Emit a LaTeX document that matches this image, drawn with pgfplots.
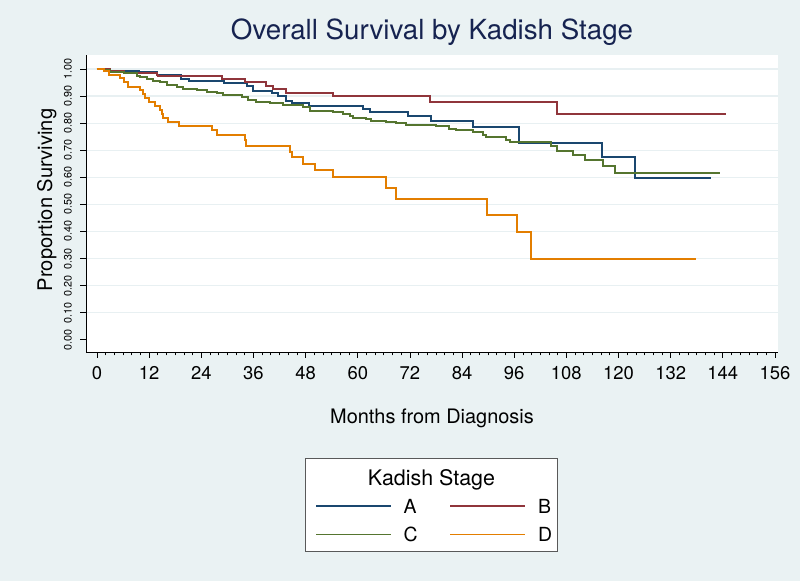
\documentclass[border=0pt]{standalone}
\usepackage{pgfplots}
\pgfplotsset{compat=1.18}
\usepackage{fontspec}
\setmainfont{TeX Gyre Heros}
\definecolor{bgc}{RGB}{234,242,243}
\definecolor{gridc}{RGB}{232,240,242}
\definecolor{titlec}{RGB}{22,35,80}
\definecolor{cA}{RGB}{26,71,111}
\definecolor{cB}{RGB}{144,53,59}
\definecolor{cC}{RGB}{85,117,47}
\definecolor{cD}{RGB}{227,126,0}
\begin{document}
\begin{tikzpicture}[x=1bp,y=1bp]
\useasboundingbox (0,0) rectangle (800,581);
\fill[bgc] (0,0) rectangle (800,581);
\fill[white] (305,29.3) rectangle (557.7,122.7);
\draw[black!65, line width=0.8bp] (305,29.3) rectangle (557.7,122.7);
\node[anchor=base, font=\fontsize{21.5}{24}\selectfont] at (431.5,95) {Kadish Stage};
\begin{axis}[
  at={(86bp,229bp)}, anchor=south west,
  scale only axis, width=692bp, height=297bp,
  xmin=-2.53, xmax=156.7, ymin=-0.045, ymax=1.0517,
  axis background/.style={fill=white},
  axis x line*=bottom, axis y line*=left,
  axis line style={-, black, line width=0.8bp},
  tick align=outside,
  tick style={black, line width=0.7bp},
  major tick length=6bp, minor tick length=3.5bp,
  xtick={0,12,...,156}, minor x tick num=5,
  ytick={0.1,0.2,0.3,0.4,0.5,0.6,0.7,0.8,0.9,1.0},
  extra y ticks={0}, extra y tick style={grid=none},
  ymajorgrids, y grid style={gridc, line width=1.2bp},
  /pgf/number format/assume math mode=true,
  yticklabel style={/pgf/number format/.cd, fixed, fixed zerofill, precision=2, /tikz/.cd},
  extra y tick labels={0.00},
  yticklabel style={xshift=-8.5bp, rotate=90, anchor=base, inner sep=0pt, font=\fontsize{10.8}{10.8}\selectfont},
  xticklabel style={anchor=base, inner sep=0pt, yshift=-22bp, font=\fontsize{18.5}{18.5}\selectfont},
  xlabel={Months from Diagnosis},
  xlabel style={at={(axis description cs:0.5,0)}, anchor=base, yshift=-71.3bp, inner sep=0pt, font=\fontsize{20}{20}\selectfont},
  ylabel={Proportion Surviving},
  ylabel style={at={(axis description cs:-0.0491,0.512)}, anchor=base, inner sep=0pt, font=\fontsize{20.2}{20}\selectfont},
  title={Overall Survival by Kadish Stage},
  title style={at={(axis description cs:0.5,1)}, anchor=base, yshift=9.3bp, inner sep=0pt, font=\fontsize{27.8}{28}\selectfont, text=titlec},
  legend columns=2,
  legend style={at={(axis description cs:0.3309,-0.4949)}, anchor=north west, draw=none, fill=none, inner sep=0pt,
    row sep=14.3bp,
    nodes={inner sep=0pt, font=\fontsize{19.5}{20}\selectfont, text height=14bp, text depth=0pt},
    /tikz/every odd column/.append style={column sep=11.8bp},
    /tikz/every even column/.append style={column sep=31.9bp}},
  legend cell align=left,
  legend image code/.code={\draw[#1, line width=1.7bp] (0bp,0bp) -- (75bp,0bp);},
  every axis plot/.append style={const plot, line width=2bp, mark=none},
]
% A
\addplot[cA, line width=2bp] coordinates {
(0,1.000) (3.0,0.994) (9.7,0.988) (13.9,0.978) (19.3,0.963) (21.2,0.955)
(29.3,0.950) (34.6,0.938) (35.9,0.920) (40.2,0.910) (41.7,0.900) (43.6,0.883)
(44.8,0.875) (48.7,0.864) (61.2,0.852) (62.8,0.840) (71.6,0.826) (76.9,0.807)
(86.5,0.784) (97.1,0.727) (116.3,0.674) (123.7,0.599) (141.3,0.599)};
\addlegendentry{A}
% B
\addplot[cB, line width=2bp] coordinates {
(0,1.000) (3.0,0.992) (6.1,0.984) (13.7,0.978) (14.1,0.974) (28.7,0.963)
(34.0,0.952) (39.0,0.938) (40.5,0.927) (43.6,0.913) (54.3,0.900) (76.6,0.877)
(105.9,0.832) (144.8,0.832)};
\addlegendentry{B}
% C
\addplot[cC, line width=2bp] coordinates {
(0,1.000) (1.5,0.995) (3.0,0.990) (6.1,0.985) (9.1,0.975) (9.9,0.969)
(11.4,0.963) (12.9,0.957) (14.5,0.951) (16.0,0.942) (18.3,0.935) (19.8,0.926)
(22.9,0.922) (25.2,0.916) (27.5,0.911) (29.0,0.904) (33.3,0.895) (34.8,0.886)
(36.7,0.879) (39.8,0.873) (42.8,0.867) (47.4,0.858) (49.0,0.846) (54.3,0.840)
(56.6,0.833) (58.2,0.827) (58.9,0.820) (62.0,0.814) (63.1,0.809) (66.6,0.805)
(68.9,0.799) (71.2,0.793) (78.1,0.789) (81.1,0.780) (82.7,0.774) (86.5,0.767)
(88.8,0.757) (89.6,0.748) (94.2,0.738) (95.0,0.730) (104.5,0.714) (105.8,0.699)
(109.5,0.683) (112.4,0.665) (116.4,0.643) (119.3,0.617) (143.4,0.617)};
\addlegendentry{C}
% D
\addplot[cD, line width=2bp] coordinates {
(0,1.000) (1.5,0.992) (2.8,0.976) (5.4,0.966) (6.1,0.953) (7.2,0.935)
(9.9,0.922) (10.5,0.908) (11.0,0.893) (12.0,0.878) (13.3,0.864) (14.5,0.849)
(14.9,0.834) (15.2,0.820) (16.4,0.806) (18.9,0.790) (26.4,0.773) (27.5,0.755)
(34.1,0.738) (34.4,0.716) (44.4,0.695) (44.8,0.674) (47.3,0.649) (50.1,0.627)
(54.2,0.603) (66.6,0.562) (68.7,0.519) (89.7,0.461) (96.6,0.397) (99.9,0.299)
(137.9,0.299)};
\addlegendentry{D}
\end{axis}
\end{tikzpicture}
\end{document}
